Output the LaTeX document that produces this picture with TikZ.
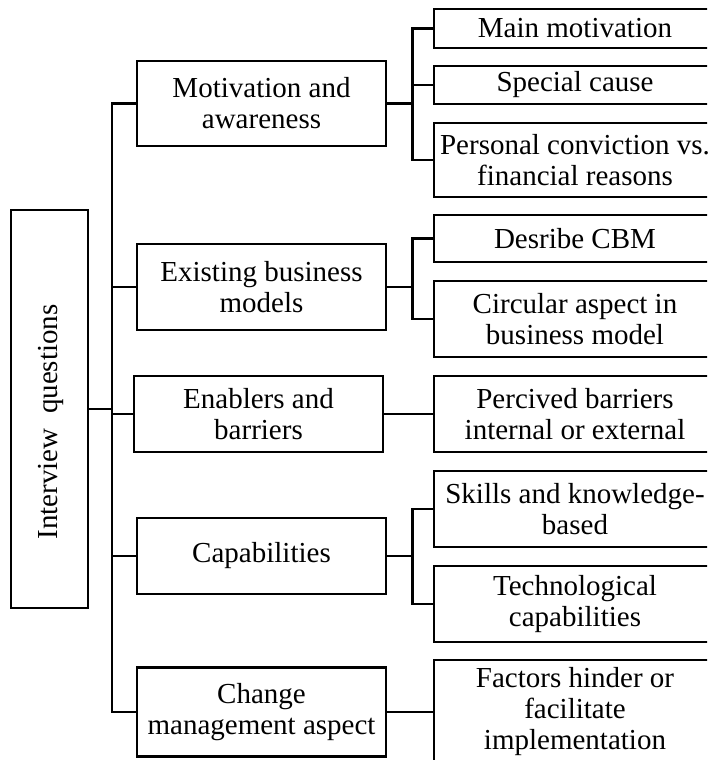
\documentclass[tikz,border=0pt]{standalone}
\usepackage{fontspec}
\setmainfont{Liberation Serif}
\usepackage{tikz}
\usetikzlibrary{positioning}

\begin{document}
\begin{tikzpicture}[x=1pt,y=-1pt,line width=2.6pt,
          txt/.style={align=center,inner sep=0pt,
                      font=\fontsize{29}{31}\selectfont},
          box/.style={txt,draw,line width=2.6pt},
          topic/.style={box,minimum width=249pt},
          item/.style={box,minimum width=282pt}]
  \useasboundingbox (0,0) rectangle (707,760);
  \clip (0,0) rectangle (707,760);

  % root
  \node[box,minimum width=77pt,minimum height=398pt](root) at (49.5,409){};
  \node[txt,rotate=90](rootlbl) at (51,422){Interview~~questions};

  % topics
  \node[topic,minimum height=85pt](mot) at (261.5,103.5){Motivation and\\awareness};
  \node[topic,minimum height=86pt](ebm) at (261.5,287){Existing business\\models};
  \node[topic,minimum height=76pt](enb) at (258.5,414){Enablers and\\barriers};
  \node[topic,minimum height=76pt](cap) at (261.5,556){Capabilities};
  \node[topic,minimum height=89pt](chg) at (261.5,712){Change\\management aspect};

  % questions
  \node[item,minimum height=39pt](main) at (575,28.5){Main motivation};
  \node[item,minimum height=38pt](cause) at (575,85){Special cause};
  \node[item,minimum height=74pt](conv) at (575,160){Personal conviction vs.\\financial reasons};
  \node[item,minimum height=47pt](cbm) at (575,238.5){Desribe CBM};
  \node[item,minimum height=76pt](circ) at (575,319){Circular aspect in\\business model};
  \node[item,minimum height=76pt](barr) at (575,414){Percived barriers\\internal or external};
  \node[item,minimum height=76pt](skill) at (575,509){Skills and knowledge-\\based};
  \node[item,minimum height=76pt](tech) at (575,604){Technological\\capabilities};
  \node[item,minimum height=104pt](fact) at (575,712){Factors hinder or\\facilitate\\implementation};

  % left trunk
  \coordinate (trunk) at (112,409);
  \draw (root.east) -- (trunk);
  \foreach \t in {mot,ebm,enb,cap,chg}
    \draw (\t.west) -| (trunk);

  % forks
  \draw (mot.east) -- ++(25,0) coordinate (mfork);
  \foreach \c in {main,cause,conv}
    \draw (\c.west) -| (mfork);
  \draw (ebm.east) -- ++(25,0) coordinate (efork);
  \foreach \c in {cbm,circ}
    \draw (\c.west) -| (efork);
  \draw (cap.east) -- ++(25,0) coordinate (cfork);
  \foreach \c in {skill,tech}
    \draw (\c.west) -| (cfork);
  \draw (enb.east) -- (barr.west);
  \draw (chg.east) -- (fact.west);
\end{tikzpicture}
\end{document}
